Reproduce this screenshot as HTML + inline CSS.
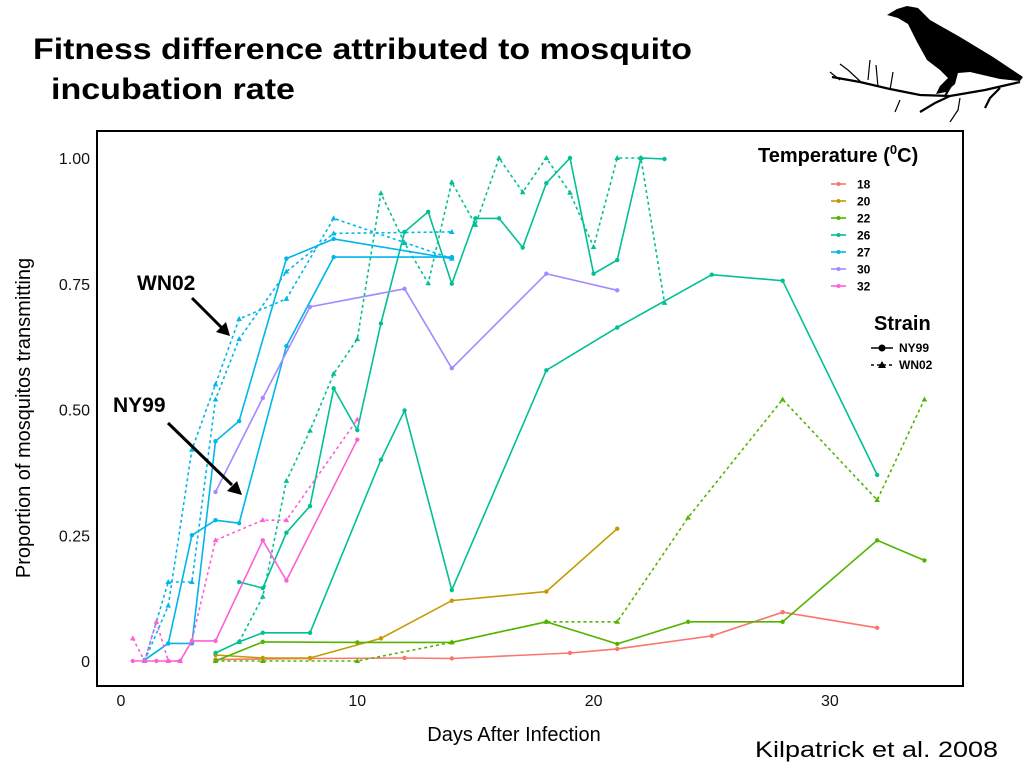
<!DOCTYPE html>
<html><head><meta charset="utf-8"><style>
html,body{margin:0;padding:0;background:#fff;}
svg{display:block;font-family:"Liberation Sans",Arial,sans-serif;}
</style></head><body>
<svg id="chart" width="1024" height="768" viewBox="0 0 1024 768">
<rect width="1024" height="768" fill="#fff"/>
<text x="33" y="59" font-size="30" font-weight="bold" textLength="659" lengthAdjust="spacingAndGlyphs">Fitness difference attributed to mosquito</text>
<text x="51" y="99" font-size="30" font-weight="bold" textLength="244" lengthAdjust="spacingAndGlyphs">incubation rate</text>
<g fill="#000" stroke="#000">
<path stroke="none" d="M887,15 L897,9 L907,6 L918,8 L930,20 L960,37 L993,57 L1023,77 L1020,81 L1000,79 L970,72 L958,73 L955,84 L946,92 L936,94 L940,86 L948,78 L940,70 L927,60 L917,42 L908,24 L898,18 Z"/>
<path fill="none" stroke-width="2.2" d="M832,77 L860,82 L890,89 L920,95 L950,96 L985,90 L1020,82 M950,96 L935,103 L920,112 M1000,88 L990,98 L985,108 M952,84 L945,96"/>
<path fill="none" stroke-width="1.2" d="M862,83 L848,70 L840,64 M878,87 L876,65 M890,90 L893,72 M840,80 L830,72 M900,100 L895,112 M960,98 L958,110 L950,122 M868,80 L870,60"/>
</g>
<rect x="97" y="131" width="866" height="555" fill="#fff" stroke="#000" stroke-width="2"/>
<g id="yticks"></g><g id="xticks"></g>
<g id="series"></g>
<text transform="translate(30,418) rotate(-90)" text-anchor="middle" font-size="20">Proportion of mosquitos transmitting</text>
<text x="514" y="741" text-anchor="middle" font-size="20">Days After Infection</text>
<text x="755" y="757" font-size="22" textLength="243" lengthAdjust="spacingAndGlyphs">Kilpatrick et al. 2008</text>
<text x="137" y="290" font-size="21" font-weight="bold">WN02</text>
<line x1="192" y1="298" x2="222" y2="328" stroke="#000" stroke-width="3"/>
<polygon points="230,336 216,332 226,322" fill="#000"/>
<text x="113" y="412" font-size="21" font-weight="bold">NY99</text>
<line x1="168" y1="423" x2="232" y2="485" stroke="#000" stroke-width="3"/>
<polygon points="242,495 227,491 237,481" fill="#000"/>
<g>
<text x="758" y="162" font-size="20" font-weight="bold">Temperature (<tspan font-size="13" dy="-8">0</tspan><tspan dy="8">C)</tspan></text>
<g id="legtemp"></g>
</g>
<g>
<text x="874" y="330" font-size="20" font-weight="bold">Strain</text>
<line x1="871" y1="348" x2="893" y2="348" stroke="#000" stroke-width="1.5"/><circle cx="882" cy="348" r="3.5"/>
<text x="899" y="352" font-size="12" font-weight="bold">NY99</text>
<line x1="871" y1="365" x2="893" y2="365" stroke="#000" stroke-width="1.5" stroke-dasharray="3,3"/><polygon points="882,361 886,368 878,368"/>
<text x="899" y="369" font-size="12" font-weight="bold">WN02</text>
</g>
</svg>
<script>
const yTicks = [0, 0.25, 0.5, 0.75, 1.0];
const yTickLabels = ["0", "0.25", "0.50", "0.75", "1.00"];
const xTicks = [0, 10, 20, 30];
const temps = ["18","20","22","26","27","30","32"];
const tempColors = ["#F8766D","#C49A00","#53B400","#00C094","#00B6EB","#A58AFF","#FB61D7"];
const s18ny_days = [4,8,12,14,19,21,25,28,32];
const s18ny_vals = [0.003,0.005,0.006,0.005,0.016,0.024,0.05,0.097,0.066];
const s20ny_days = [4,6,8,11,14,18,21];
const s20ny_vals = [0.012,0.006,0.006,0.045,0.12,0.138,0.263];
const s22ny_days = [4,6,10,14,18,21,24,28,32,34];
const s22ny_vals = [0,0.038,0.037,0.037,0.078,0.034,0.078,0.078,0.24,0.2];
const s22wn_days = [4,6,10,14,18,21,24,28,32,34];
const s22wn_vals = [0,0,0,0.037,0.078,0.078,0.285,0.52,0.32,0.52];
const s26nyA_days = [4,5,6,8,11,12,14,18,21,25,28,32];
const s26nyA_vals = [0.016,0.038,0.056,0.056,0.4,0.498,0.141,0.578,0.663,0.768,0.756,0.37];
const s26nyB_days = [5,6,7,8,9,10,11,12,13,14,15,16,17,18,19,20,21,22,23];
const s26nyB_vals = [0.157,0.145,0.255,0.308,0.542,0.459,0.671,0.853,0.893,0.75,0.88,0.88,0.822,0.95,1.0,0.77,0.797,1.0,0.998];
const s26wn_days = [5,6,7,8,9,10,11,12,13,14,15,16,17,18,19,20,21,22,23];
const s26wn_vals = [0.038,0.128,0.358,0.458,0.571,0.64,0.93,0.831,0.751,0.952,0.867,1.0,0.932,1.0,0.931,0.823,1.0,1.0,0.712];
const s27nyA_days = [1,2,3,4,5,7,9,14];
const s27nyA_vals = [0.002,0.035,0.25,0.28,0.274,0.626,0.803,0.803];
const s27nyB_days = [1,2,3,4,5,7,9,14];
const s27nyB_vals = [0.002,0.035,0.035,0.437,0.477,0.8,0.839,0.8];
const s27wnA_days = [1,2,3,4,5,7,9,14];
const s27wnA_vals = [0,0.11,0.42,0.55,0.68,0.72,0.88,0.8];
const s27wnB_days = [1,2,3,4,5,7,9,14];
const s27wnB_vals = [0,0.157,0.157,0.52,0.64,0.774,0.85,0.853];
const s30ny_days = [4,6,8,12,14,18,21];
const s30ny_vals = [0.336,0.523,0.704,0.74,0.582,0.77,0.737];
const s32ny_days = [0.5,1,1.5,2,2.5,3,4,6,7,10];
const s32ny_vals = [0,0,0,0,0,0.04,0.04,0.24,0.16,0.44];
const s32wn_days = [0.5,1,1.5,2,2.5,3,4,6,7,10];
const s32wn_vals = [0.045,0,0.078,0,0,0.04,0.24,0.28,0.28,0.48];

const seriesList = [
 {n:"18-ny99",c:0,d:s18ny_days,v:s18ny_vals,wn:false},
 {n:"20-ny99",c:1,d:s20ny_days,v:s20ny_vals,wn:false},
 {n:"22-ny99",c:2,d:s22ny_days,v:s22ny_vals,wn:false},
 {n:"22-wn02",c:2,d:s22wn_days,v:s22wn_vals,wn:true},
 {n:"26-ny99-a",c:3,d:s26nyA_days,v:s26nyA_vals,wn:false},
 {n:"26-ny99-b",c:3,d:s26nyB_days,v:s26nyB_vals,wn:false},
 {n:"26-wn02",c:3,d:s26wn_days,v:s26wn_vals,wn:true},
 {n:"27-ny99-a",c:4,d:s27nyA_days,v:s27nyA_vals,wn:false},
 {n:"27-ny99-b",c:4,d:s27nyB_days,v:s27nyB_vals,wn:false},
 {n:"27-wn02-a",c:4,d:s27wnA_days,v:s27wnA_vals,wn:true},
 {n:"27-wn02-b",c:4,d:s27wnB_days,v:s27wnB_vals,wn:true},
 {n:"30-ny99",c:5,d:s30ny_days,v:s30ny_vals,wn:false},
 {n:"32-ny99",c:6,d:s32ny_days,v:s32ny_vals,wn:false},
 {n:"32-wn02",c:6,d:s32wn_days,v:s32wn_vals,wn:true}
];
const NS="http://www.w3.org/2000/svg";
function X(d){return 121 + d*23.63;}
function Y(v){return 661 - v*503;}
function mk(tag,attrs,parent){const e=document.createElementNS(NS,tag);for(const k in attrs)e.setAttribute(k,attrs[k]);parent.appendChild(e);return e;}
const yg=document.getElementById("yticks");
yTicks.forEach((t,i)=>{
 const e=mk("text",{x:90,y:Y(t)+6,"text-anchor":"end","font-size":"16",fill:"#111"},yg);
 
 
 e.textContent=yTickLabels[i];
});
const xg=document.getElementById("xticks");
xTicks.forEach(t=>{
 const e=mk("text",{x:X(t),y:706,"text-anchor":"middle","font-size":"16",fill:"#111"},xg);
 
 
 e.textContent=String(t);
});
const sg=document.getElementById("series");
seriesList.forEach(s=>{
 const col=tempColors[s.c];
 const g=mk("g",{},sg);
 
 
 const pts=s.d.map((d,i)=>X(d).toFixed(1)+","+Y(s.v[i]).toFixed(1)).join(" ");
 const pl=mk("polyline",{points:pts,fill:"none",stroke:col,"stroke-width":"1.6","stroke-dasharray":s.wn?"3,3":"none"},g);
 
 
 s.d.forEach((d,i)=>{
  const x=X(d),y=Y(s.v[i]);
  let m;
  if(s.wn){m=mk("polygon",{points:`${x},${y-3} ${x+2.8},${y+2} ${x-2.8},${y+2}`,fill:col},g);}
  else{m=mk("circle",{cx:x,cy:y,r:2.2,fill:col},g);}
  
  
 });
});
const lg=document.getElementById("legtemp");
temps.forEach((t,i)=>{
 const y=184+i*17;
 const ln=mk("line",{x1:831,y1:y,x2:846,y2:y,stroke:tempColors[i],"stroke-width":"1.6"},lg);
 
 
 mk("circle",{cx:838.5,cy:y,r:2,fill:tempColors[i]},lg);
 const tx=mk("text",{x:857,y:y+4.5,"font-size":"12","font-weight":"bold"},lg);
 
 
 tx.textContent=t;
});
</script>
</body></html>
